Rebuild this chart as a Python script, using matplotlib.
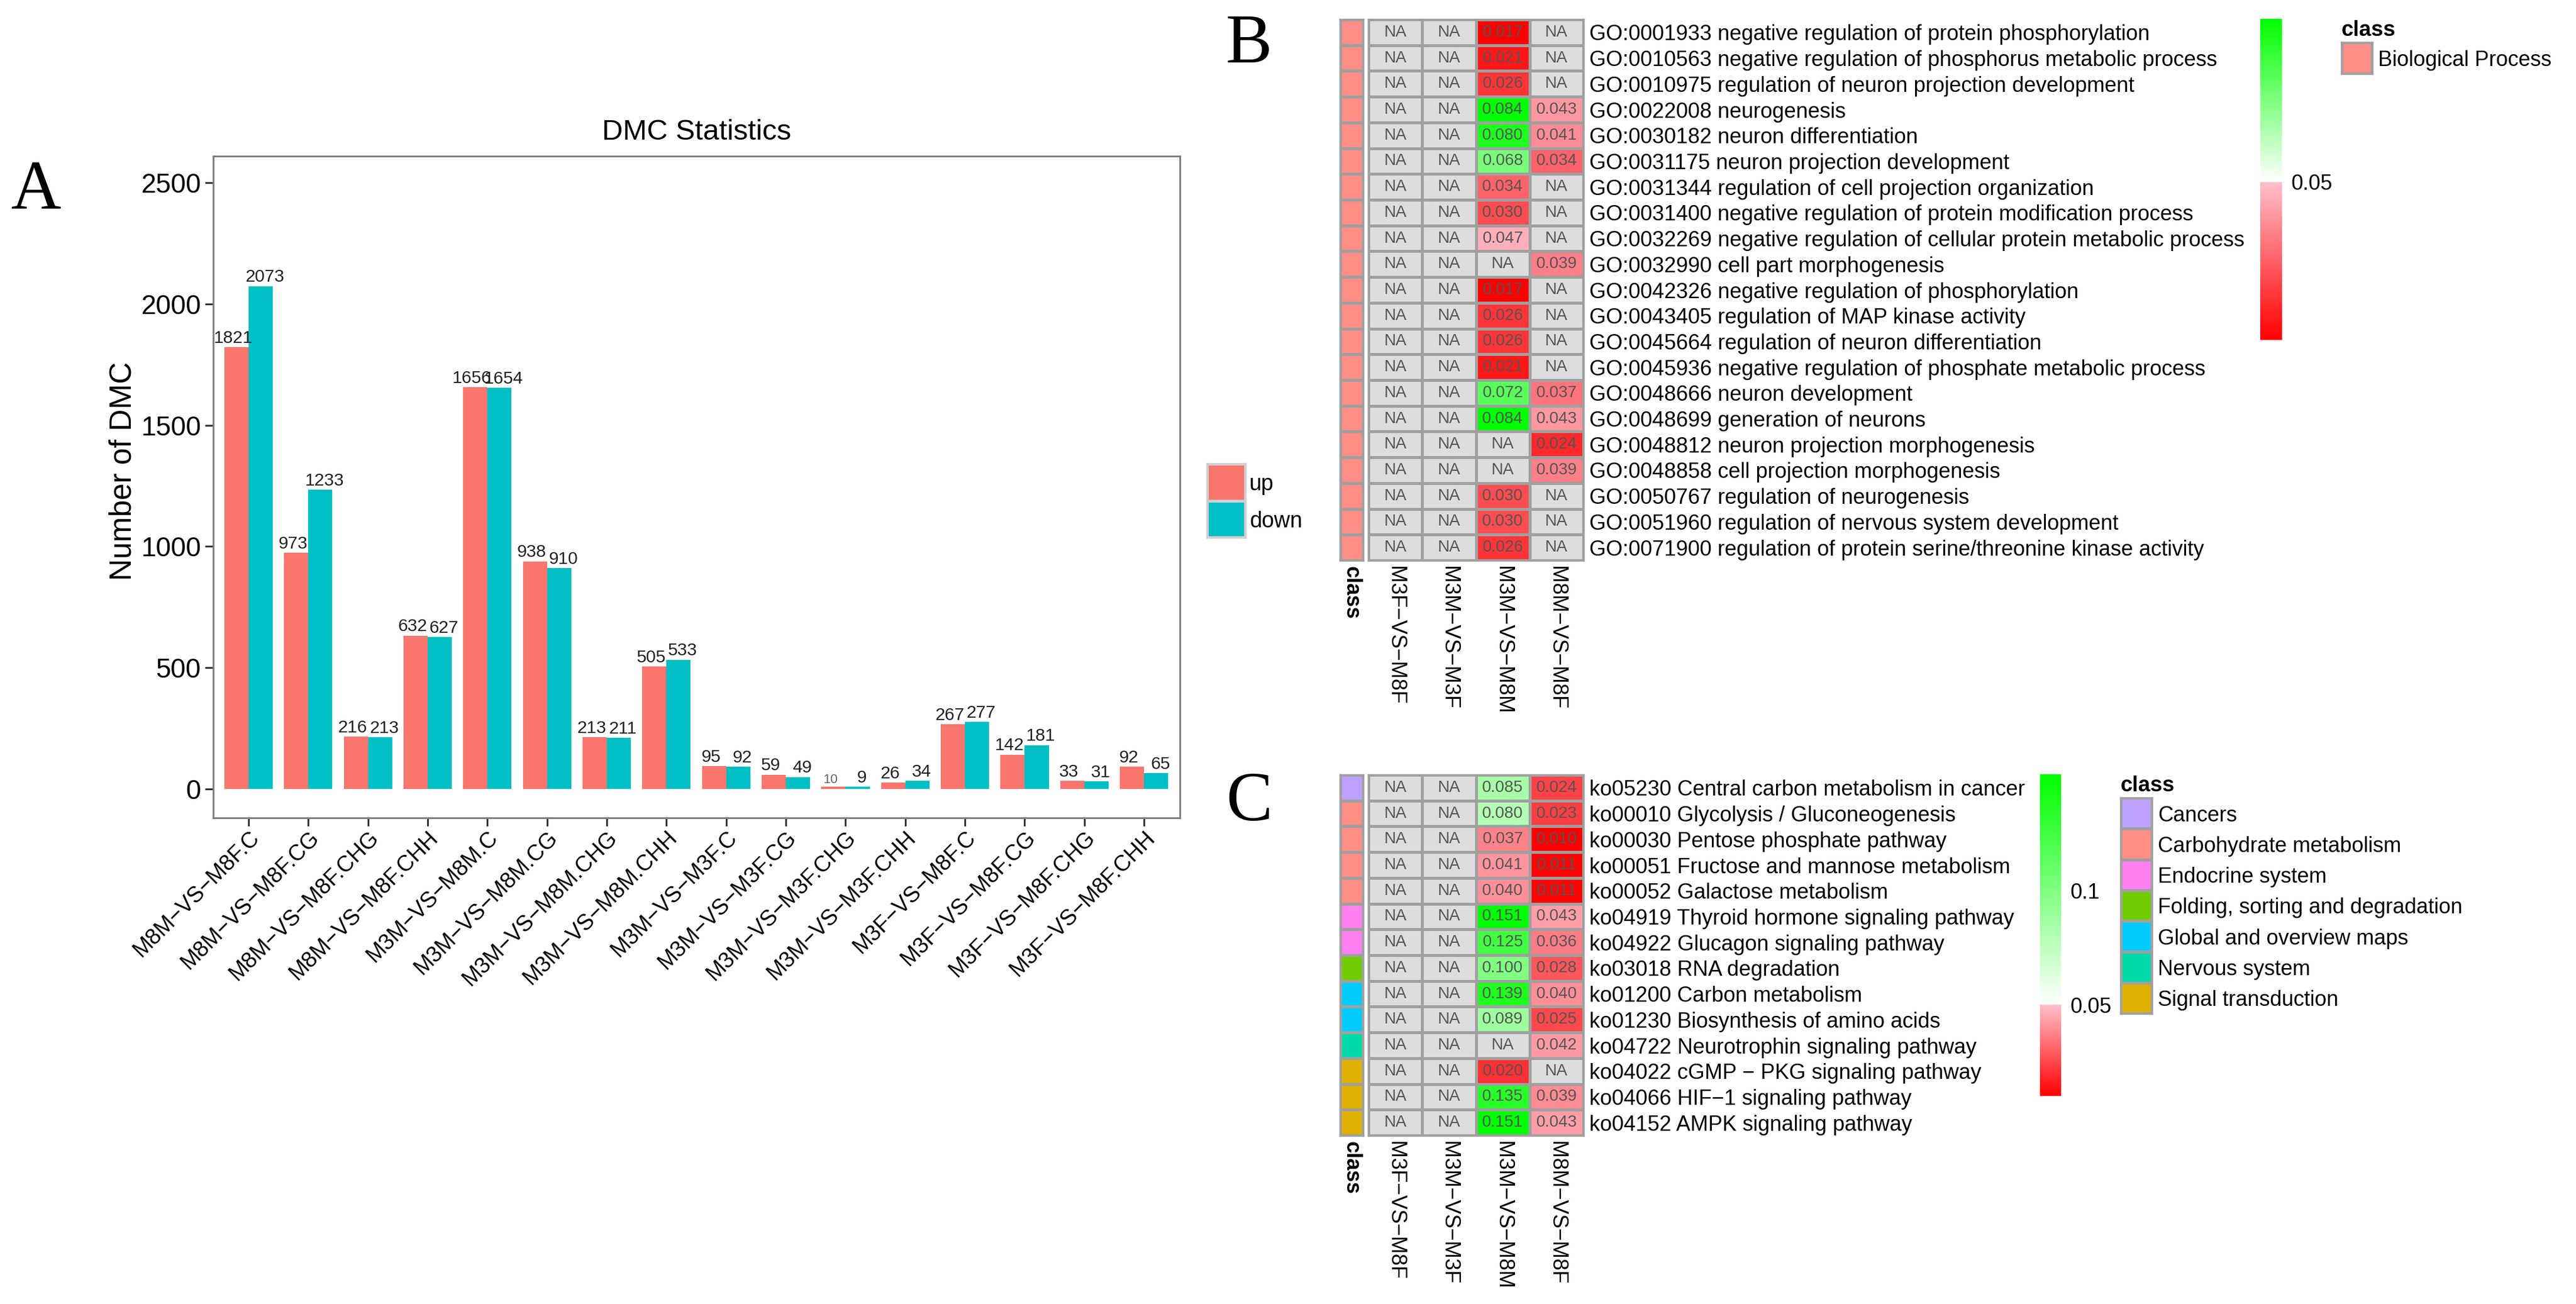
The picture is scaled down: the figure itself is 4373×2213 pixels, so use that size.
import numpy as np
import matplotlib
matplotlib.use("Agg")
import matplotlib.pyplot as plt
from matplotlib.colors import LinearSegmentedColormap, ListedColormap

plt.rcParams['font.family'] = ['Liberation Sans', 'DejaVu Sans']

WIDTH, HEIGHT = 4373, 2213
NA = np.nan

#### DATA #####
comparisons = ["M8M−VS−M8F.C", "M8M−VS−M8F.CG", "M8M−VS−M8F.CHG", "M8M−VS−M8F.CHH",
               "M3M−VS−M8M.C", "M3M−VS−M8M.CG", "M3M−VS−M8M.CHG", "M3M−VS−M8M.CHH",
               "M3M−VS−M3F.C", "M3M−VS−M3F.CG", "M3M−VS−M3F.CHG", "M3M−VS−M3F.CHH",
               "M3F−VS−M8F.C", "M3F−VS−M8F.CG", "M3F−VS−M8F.CHG", "M3F−VS−M8F.CHH"]
dmc_up = [1821, 973, 216, 632, 1656, 938, 213, 505, 95, 59, 10, 26, 267, 142, 33, 92]
dmc_down = [2073, 1233, 213, 627, 1654, 910, 211, 533, 92, 49, 9, 34, 277, 181, 31, 65]

heat_columns = ["M3F−VS−M8F", "M3M−VS−M3F", "M3M−VS−M8M", "M8M−VS−M8F"]

go_terms = ["GO:0001933 negative regulation of protein phosphorylation",
            "GO:0010563 negative regulation of phosphorus metabolic process",
            "GO:0010975 regulation of neuron projection development",
            "GO:0022008 neurogenesis",
            "GO:0030182 neuron differentiation",
            "GO:0031175 neuron projection development",
            "GO:0031344 regulation of cell projection organization",
            "GO:0031400 negative regulation of protein modification process",
            "GO:0032269 negative regulation of cellular protein metabolic process",
            "GO:0032990 cell part morphogenesis",
            "GO:0042326 negative regulation of phosphorylation",
            "GO:0043405 regulation of MAP kinase activity",
            "GO:0045664 regulation of neuron differentiation",
            "GO:0045936 negative regulation of phosphate metabolic process",
            "GO:0048666 neuron development",
            "GO:0048699 generation of neurons",
            "GO:0048812 neuron projection morphogenesis",
            "GO:0048858 cell projection morphogenesis",
            "GO:0050767 regulation of neurogenesis",
            "GO:0051960 regulation of nervous system development",
            "GO:0071900 regulation of protein serine/threonine kinase activity"]
go_m3m_m8m = [0.017, 0.021, 0.026, 0.084, 0.080, 0.068, 0.034, 0.030, 0.047, NA, 0.017,
              0.026, 0.026, 0.021, 0.072, 0.084, NA, NA, 0.030, 0.030, 0.026]
go_m8m_m8f = [NA, NA, NA, 0.043, 0.041, 0.034, NA, NA, NA, 0.039, NA,
              NA, NA, NA, 0.037, 0.043, 0.024, 0.039, NA, NA, NA]
go_classes = [0] * 21
go_class_names = ["Biological Process"]
go_class_colors = ["#FF8E86"]

ko_terms = ["ko05230 Central carbon metabolism in cancer",
            "ko00010 Glycolysis / Gluconeogenesis",
            "ko00030 Pentose phosphate pathway",
            "ko00051 Fructose and mannose metabolism",
            "ko00052 Galactose metabolism",
            "ko04919 Thyroid hormone signaling pathway",
            "ko04922 Glucagon signaling pathway",
            "ko03018 RNA degradation",
            "ko01200 Carbon metabolism",
            "ko01230 Biosynthesis of amino acids",
            "ko04722 Neurotrophin signaling pathway",
            "ko04022 cGMP − PKG signaling pathway",
            "ko04066 HIF−1 signaling pathway",
            "ko04152 AMPK signaling pathway"]
ko_m3m_m8m = [0.085, 0.080, 0.037, 0.041, 0.040, 0.151, 0.125, 0.100, 0.139, 0.089,
              NA, 0.020, 0.135, 0.151]
ko_m8m_m8f = [0.024, 0.023, 0.010, 0.011, 0.011, 0.043, 0.036, 0.028, 0.040, 0.025,
              0.042, NA, 0.039, 0.043]
ko_classes = [0, 1, 1, 1, 1, 2, 2, 3, 4, 4, 5, 6, 6, 6]
ko_class_names = ["Cancers", "Carbohydrate metabolism", "Endocrine system",
                  "Folding, sorting and degradation", "Global and overview maps",
                  "Nervous system", "Signal transduction"]
ko_class_colors = ["#BCA0FF", "#FF8E85", "#FF80EE", "#70CC00", "#00CCFF", "#00D9A8", "#E0B000"]

#### HELPER FUNCTIONS #####
def pixelAxes(fig, left, top, right, bottom):
    """
    Add axes from a box given in pixels of the final picture, y counted from the top.
    """
    return fig.add_axes([left / WIDTH, 1 - bottom / HEIGHT,
                         (right - left) / WIDTH, (bottom - top) / HEIGHT])

def pvalueCmap(vmin, vmax):
    # red to pink below 0.05, white to green above it
    split = (0.05 - vmin) / (vmax - vmin)
    cmap = LinearSegmentedColormap.from_list(
        "pvalue", [(0, "#FF0000"), (split, "#FFC0CB"), (split, "#FFFFFF"), (1, "#00FF00")], N=512)
    cmap.set_bad("#DDDDDD")
    return cmap

def drawHeatmap(fig, box, class_box, matrix, terms, classes, class_colors):
    """
    Draw the annotated heatmap with its class strip, returns the mesh for the colorbar.
    """
    matrix = np.array(matrix, dtype=float)
    vmin, vmax = np.nanmin(matrix), np.nanmax(matrix)
    ax = pixelAxes(fig, *box)
    mesh = ax.pcolormesh(matrix, cmap=pvalueCmap(vmin, vmax), vmin=vmin, vmax=vmax,
                         edgecolors="#A0A0A0", linewidth=2.2)
    ax.invert_yaxis()
    for spine in ax.spines.values():
        spine.set_color("#A0A0A0")
        spine.set_linewidth(2.5)

    for row in range(matrix.shape[0]):
        for col in range(matrix.shape[1]):
            value = matrix[row, col]
            label = "NA" if np.isnan(value) else "{:.3f}".format(value)
            ax.text(col + 0.5, row + 0.5, label, ha="center", va="center",
                    fontsize=20, color="#555555")

    ax.yaxis.tick_right()
    ax.set_yticks(np.arange(len(terms)) + 0.5, terms, fontsize=26.1)
    ax.set_xticks(np.arange(len(heat_columns)) + 0.5, heat_columns, rotation=270,
                  ha="center", va="top", fontsize=26)
    ax.tick_params(axis="y", length=0, pad=7)
    ax.tick_params(axis="x", length=0, pad=7)

    strip = pixelAxes(fig, *class_box)
    strip.pcolormesh(np.array(classes)[:, None], cmap=ListedColormap(class_colors),
                     vmin=-0.5, vmax=len(class_colors) - 0.5, edgecolors="#A0A0A0", linewidth=2.2)
    strip.invert_yaxis()
    strip.set_yticks([])
    strip.set_xticks([0.5], ["class"], rotation=270, ha="center", va="top",
                     fontsize=26, fontweight="bold")
    strip.tick_params(axis="x", length=0, pad=7)
    for spine in strip.spines.values():
        spine.set_color("#A0A0A0")
        spine.set_linewidth(2.5)
    return mesh

def drawColorbar(fig, box, mesh, ticks, ticklabels):
    cax = pixelAxes(fig, *box)
    bar = fig.colorbar(mesh, cax=cax, ticks=ticks)
    bar.outline.set_visible(False)
    bar.ax.set_yticklabels(ticklabels, fontsize=26)
    bar.ax.tick_params(length=0, pad=11)

def drawSwatches(fig, box, names, colors, edge, title=None, fontsize=26, pad=7):
    """
    Column of legend squares with the names on the right.
    """
    ax = pixelAxes(fig, *box)
    ax.pcolormesh(np.arange(len(names))[:, None], cmap=ListedColormap(colors),
                  vmin=-0.5, vmax=len(colors) - 0.5, edgecolors=edge, linewidth=2.2)
    ax.invert_yaxis()
    ax.set_xticks([])
    ax.yaxis.tick_right()
    ax.set_yticks(np.arange(len(names)) + 0.5, names, fontsize=fontsize)
    ax.tick_params(axis="y", length=0, pad=pad)
    for spine in ax.spines.values():
        spine.set_color(edge)
        spine.set_linewidth(2.5)
    if title:
        ax.set_title(title, loc="left", fontsize=26.5, fontweight="bold", pad=8)

#### PANEL A #####
def drawBars(fig):
    ax = pixelAxes(fig, 362, 265, 2003, 1388)
    x = np.arange(1, len(comparisons) + 1)
    width = 0.405
    up_bars = ax.bar(x - width / 2, dmc_up, width, color="#F8766D")
    down_bars = ax.bar(x + width / 2, dmc_down, width, color="#00BFC4")

    # the labels lean a little away from each other, as in the original figure
    for bars, shift in ((up_bars, -4), (down_bars, 5)):
        for bar in bars:
            value = int(bar.get_height())
            small = value == 10
            ax.annotate(str(value), (bar.get_x() + bar.get_width() / 2, value),
                        xytext=(shift, 1), textcoords="offset points", ha="center", va="bottom",
                        fontsize=16 if small else 21.5, color="#666666" if small else "#222222")

    ax.set_xlim(0.408, 16.6)
    ax.set_ylim(-119, 2609)
    ax.set_yticks([0, 500, 1000, 1500, 2000, 2500])
    ax.set_xticks(x, comparisons, rotation=45, ha="right", rotation_mode="anchor", fontsize=27)
    ax.tick_params(axis="y", labelsize=33, length=10, width=2.2, color="#333333", pad=5)
    ax.tick_params(axis="x", length=10, width=2.2, color="#333333", pad=1)
    ax.set_ylabel("Number of DMC", fontsize=37, labelpad=4, y=0.524)
    ax.set_title("DMC Statistics", fontsize=35.3, pad=20)
    for spine in ax.spines.values():
        spine.set_color("#808080")
        spine.set_linewidth(2.2)

    drawSwatches(fig, (2049, 787, 2114, 912), ["up", "down"], ["#F8766D", "#00BFC4"],
                 "#CFCFCF", fontsize=27, pad=5)

if __name__ == '__main__':
    fig = plt.figure(figsize=(WIDTH / 100, HEIGHT / 100), dpi=100, facecolor="white")

    drawBars(fig)

    na_column = [NA] * len(go_terms)
    go_matrix = list(zip(na_column, na_column, go_m3m_m8m, go_m8m_m8f))
    mesh = drawHeatmap(fig, (2323, 33, 2688, 951), (2275, 33, 2314, 951), go_matrix,
                       go_terms, go_classes, go_class_colors)
    drawColorbar(fig, (3837, 32, 3874, 577), mesh, [0.05], ["0.05"])
    drawSwatches(fig, (3975, 72, 4027, 125), go_class_names, go_class_colors, "#A0A0A0", title="class")

    na_column = [NA] * len(ko_terms)
    ko_matrix = list(zip(na_column, na_column, ko_m3m_m8m, ko_m8m_m8f))
    mesh = drawHeatmap(fig, (2323, 1315, 2688, 1927), (2275, 1315, 2314, 1927), ko_matrix,
                       ko_terms, ko_classes, ko_class_colors)
    drawColorbar(fig, (3463, 1314, 3499, 1860), mesh, [0.05, 0.1], ["0.05", "0.1"])
    drawSwatches(fig, (3600, 1354, 3653, 1720), ko_class_names, ko_class_colors, "#A0A0A0", title="class")

    for letter, px, py in (("A", 61, 325), ("B", 2120, 77), ("C", 2120, 1363)):
        fig.text(px / WIDTH, 1 - py / HEIGHT, letter, family="Liberation Serif",
                 fontsize=85, ha="center", va="center")

    fig.savefig("out.png", dpi=100)
